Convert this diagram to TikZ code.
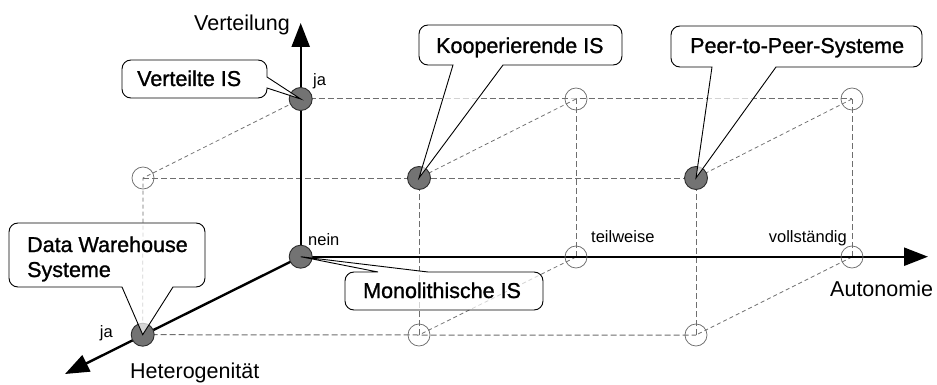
\documentclass[tikz,border=0pt]{standalone}
\usepackage{fontspec}
\setmainfont{Liberation Sans}
\newfontfamily\calloutfont{Liberation Sans}[FakeBold=1.2]
\usetikzlibrary{arrows.meta}

\definecolor{pointfill}{HTML}{737373}
\definecolor{pointedge}{HTML}{2E2E2E}
\definecolor{gridgray}{HTML}{6E6E6E}

\tikzset{
  axis/.style={line width=2.4pt, -{Triangle[length=24pt,width=18pt]}},
  gridline/.style={draw=gridgray, line width=1pt, dash pattern=on 6pt off 3pt},
  depthline/.style={draw=gridgray, line width=0.75pt, dash pattern=on 4pt off 3pt},
  setpoint/.style={circle, minimum size=23pt, inner sep=0pt, fill=pointfill, draw=pointedge, line width=0.9pt},
  emptypoint/.style={circle, minimum size=22pt, inner sep=0pt, draw=gridgray, line width=0.75pt},
  callout/.style={draw=black, line width=0.9pt, fill=white, fill opacity=0.7},
  calltext/.style={inner sep=0pt, font=\calloutfont\fontsize{21.5}{25}\selectfont},
  axislabel/.style={inner sep=0pt, font=\fontsize{21.5}{25}\selectfont},
  ticklabel/.style={inner sep=0pt, font=\fontsize{16.5}{19}\selectfont},
}

\begin{document}
\begin{tikzpicture}[x=1pt, y=-1pt]
\useasboundingbox (0,0) rectangle (937,385);
\fill[white] (0,0) rectangle (937,385);

% lattice corners c<autonomy><distribution><heterogeneity>
\coordinate (c000) at (300.7,256.7);
\coordinate (c100) at (576,257);
\coordinate (c200) at (852,257);
\coordinate (c010) at (300.7,99);
\coordinate (c110) at (576,99);
\coordinate (c210) at (852,99);
\coordinate (c001) at (142.7,334.7);
\coordinate (c101) at (419,335);
\coordinate (c201) at (696,335);
\coordinate (c011) at (143,178);
\coordinate (c111) at (419,178);
\coordinate (c211) at (696,178);

% axis ends
\coordinate (vtip) at (300.7,23);
\coordinate (htip) at (928,256.7);
\coordinate (dtip) at (65,374);

% dashed lattice
\draw[gridline] (c010) -- (c110) -- (c210);
\draw[gridline] (c011) -- (c111) -- (c211);
\draw[gridline] (c001) -- (c101) -- (c201);
\draw[gridline] (c100) -- (c110);
\draw[gridline] (c200) -- (c210);
\draw[gridline] (c101) -- (c111);
\draw[gridline] (c201) -- (c211);
\draw[depthline] (c001) -- (c011);
\draw[depthline] (c010) -- (c011);
\draw[depthline] (c110) -- (c111);
\draw[depthline] (c210) -- (c211);
\draw[depthline] (c100) -- (c101);
\draw[depthline] (c200) -- (c201);

% axes
\draw[axis] (c000) -- (vtip);
\draw[axis] (c000) -- (htip);
\draw[axis] (c000) -- (dtip);

% lattice points
\node[setpoint] (p000) at (c000) {};
\node[setpoint] (p010) at (c010) {};
\node[setpoint] (p001) at (c001) {};
\node[setpoint] (p111) at (c111) {};
\node[setpoint] (p211) at (c211) {};
\node[emptypoint] (p100) at (c100) {};
\node[emptypoint] (p200) at (c200) {};
\node[emptypoint] (p110) at (c110) {};
\node[emptypoint] (p210) at (c210) {};
\node[emptypoint] (p011) at (c011) {};
\node[emptypoint] (p101) at (c101) {};
\node[emptypoint] (p201) at (c201) {};

% axis titles
\node[axislabel, anchor=base east] (tdist) at (290,31) {Verteilung};
\node[axislabel, anchor=base west] (taut) at (830,296) {Autonomie};
\node[axislabel, anchor=base west] (thet) at (130,378) {Heterogenität};

% axis values
\node[ticklabel, anchor=base west] (vja) at (313,86) {ja};
\node[ticklabel, anchor=base west] (vnein) at (308,245) {nein};
\node[ticklabel, anchor=base west] (ateil) at (591,242) {teilweise};
\node[ticklabel, anchor=base east] (avoll) at (847,242) {vollständig};
\node[ticklabel, anchor=base east] (hja) at (113,337) {ja};

% callouts
\path[callout] (131,60) -- (258,60) .. controls (263,60) and (267,64) .. (267,69)
  -- (267,77) -- (c010) -- (267,88) -- (267,89)
  .. controls (267,94) and (263,98) .. (258,98) -- (131,98)
  .. controls (126,98) and (122,94) .. (122,89) -- (122,69)
  .. controls (122,64) and (126,60) .. (131,60) -- cycle;
\node[calltext, anchor=base west] (kverteilt) at (137,86) {Verteilte IS};

\path[callout] (428,25) -- (613,25) .. controls (618,25) and (622,29) .. (622,34)
  -- (622,56) .. controls (622,61) and (618,65) .. (613,65)
  -- (503,65) -- (c111) -- (453,65) -- (428,65)
  .. controls (423,65) and (419,61) .. (419,56) -- (419,34)
  .. controls (419,29) and (423,25) .. (428,25) -- cycle;
\node[calltext, anchor=base west] (kkoop) at (436,53) {Kooperierende IS};

\path[callout] (680,26) -- (913,26) .. controls (918,26) and (922,30) .. (922,35)
  -- (922,58) .. controls (922,63) and (918,67) .. (913,67)
  -- (776,67) -- (c211) -- (712,67) -- (680,67)
  .. controls (675,67) and (671,63) .. (671,58) -- (671,35)
  .. controls (671,30) and (675,26) .. (680,26) -- cycle;
\node[calltext, anchor=base west] (kp2p) at (690,53) {Peer-to-Peer-Systeme};

\path[callout] (18,223) -- (196,223) .. controls (201,223) and (205,227) .. (205,232)
  -- (205,278) .. controls (205,283) and (201,287) .. (196,287)
  -- (173,287) -- (c001) -- (122,287) -- (18,287)
  .. controls (13,287) and (9,283) .. (9,278) -- (9,232)
  .. controls (9,227) and (13,223) .. (18,223) -- cycle;
\node[calltext, anchor=base west, align=left] (kdw) at (27,277) {Data Warehouse\\Systeme};

\path[callout] (354,272) -- (378,272) -- (c000) -- (428,272) -- (534,272)
  .. controls (539,272) and (543,276) .. (543,281) -- (543,301)
  .. controls (543,306) and (539,310) .. (534,310) -- (354,310)
  .. controls (349,310) and (345,306) .. (345,301) -- (345,281)
  .. controls (345,276) and (349,272) .. (354,272) -- cycle;
\node[calltext, anchor=base west] (kmono) at (363,298) {Monolithische IS};

\end{tikzpicture}
\end{document}
